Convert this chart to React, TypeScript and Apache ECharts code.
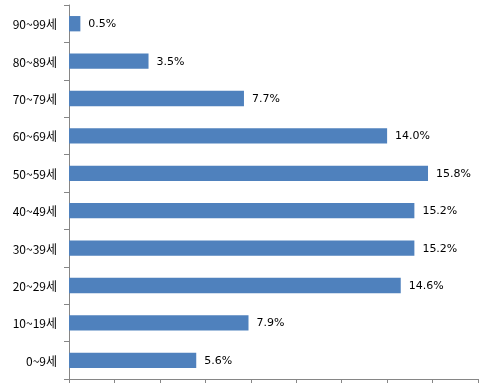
import React, { useEffect, useRef } from "react";
import * as echarts from "echarts";

const categories = ["0~9세", "10~19세", "20~29세", "30~39세", "40~49세", "50~59세", "60~69세", "70~79세", "80~89세", "90~99세"];
const values = [5.6, 7.9, 14.6, 15.2, 15.2, 15.8, 14.0, 7.7, 3.5, 0.5];

export default function App() {
  const ref = useRef<HTMLDivElement>(null);
  useEffect(() => {
    if (!ref.current) return;
    const chart = echarts.init(ref.current, null, { renderer: "svg" });
    chart.setOption({
      animation: false,
      grid: { left: 69, right: 25, top: 5, bottom: 7, containLabel: false },
      xAxis: {
        type: "value",
        min: 0,
        max: 18,
        interval: 2,
        axisLine: { show: true, lineStyle: { color: "#868686", width: 1 } },
        axisTick: { show: true, length: 4, lineStyle: { color: "#868686" } },
        axisLabel: { show: false },
        splitLine: { show: false },
      },
      yAxis: {
        type: "category",
        data: categories,
        axisLine: { show: true, lineStyle: { color: "#868686", width: 1 } },
        axisTick: { show: true, length: 5, lineStyle: { color: "#868686" } },
        axisLabel: { color: "#000", fontSize: 12, margin: 12, fontFamily: "'Noto Sans CJK KR', sans-serif" },
      },
      series: [
        {
          type: "bar",
          data: values,
          barCategoryGap: "59%",
          itemStyle: { color: "#4F81BD" },
          label: {
            show: true,
            position: "right",
            distance: 8,
            color: "#000",
            fontSize: 11,
            fontFamily: "'DejaVu Sans', sans-serif",
            formatter: (p: any) => p.value.toFixed(1) + "%",
          },
        },
      ],
    });
    return () => chart.dispose();
  }, []);
  return <div ref={ref} style={{ position: "fixed", left: 0, top: 0, width: 503, height: 386 }} />;
}
